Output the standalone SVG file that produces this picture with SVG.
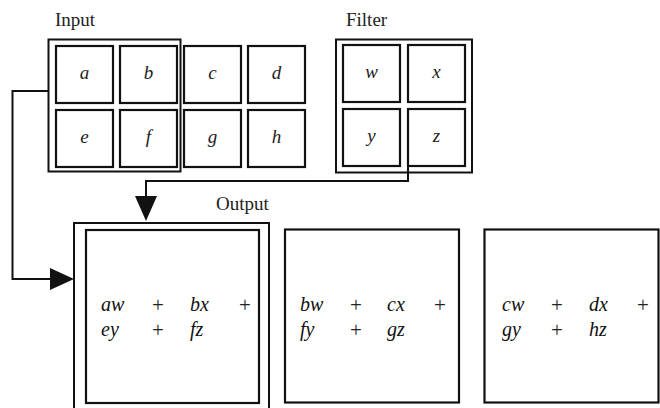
<svg xmlns="http://www.w3.org/2000/svg" width="660" height="408" viewBox="0 0 660 408">
<style>
.box{fill:none;stroke:#111;stroke-width:2.2}
.outer{fill:none;stroke:#111;stroke-width:2}
text{font-family:'Liberation Serif','DejaVu Serif','Times New Roman',serif}
.lbl{font-size:19px;fill:#222}
.var{font-style:italic;font-size:19px;fill:#222;text-anchor:middle}
.eq{font-style:italic;font-size:20px;fill:#111}
.pl{font-size:21px;fill:#222;text-anchor:middle}
.conn{fill:none;stroke:#111;stroke-width:2}
</style>
<text class="lbl" x="55" y="26">Input</text>
<text class="lbl" x="346" y="26">Filter</text>
<text class="lbl" x="216" y="210">Output</text>
<g id="input">
<rect class="outer" x="48.5" y="39.5" width="132" height="132"/>
<g id="cell-a"><rect class="box" x="56" y="46" width="57" height="57"/><text class="var" x="84.5" y="79">a</text></g>
<g id="cell-b"><rect class="box" x="120" y="46" width="57" height="57"/><text class="var" x="148.5" y="79">b</text></g>
<g id="cell-c"><rect class="box" x="184" y="46" width="57" height="57"/><text class="var" x="212.5" y="79">c</text></g>
<g id="cell-d"><rect class="box" x="248" y="46" width="57" height="57"/><text class="var" x="276.5" y="79">d</text></g>
<g id="cell-e"><rect class="box" x="56" y="110" width="57" height="57"/><text class="var" x="84.5" y="143">e</text></g>
<g id="cell-f"><rect class="box" x="120" y="110" width="57" height="57"/><text class="var" x="148.5" y="143">f</text></g>
<g id="cell-g"><rect class="box" x="184" y="110" width="57" height="57"/><text class="var" x="212.5" y="143">g</text></g>
<g id="cell-h"><rect class="box" x="248" y="110" width="57" height="57"/><text class="var" x="276.5" y="143">h</text></g>
</g>
<g id="filter">
<rect class="outer" x="336" y="39.5" width="136" height="133"/>
<g id="cell-w"><rect class="box" x="343" y="45" width="57" height="57"/><text class="var" x="371.5" y="78">w</text></g>
<g id="cell-x"><rect class="box" x="408" y="45" width="57" height="57"/><text class="var" x="436.5" y="78">x</text></g>
<g id="cell-y"><rect class="box" x="343" y="109" width="57" height="57"/><text class="var" x="371.5" y="142">y</text></g>
<g id="cell-z"><rect class="box" x="408" y="109" width="57" height="57"/><text class="var" x="436.5" y="142">z</text></g>
</g>
<g id="output1">
<rect class="outer" x="74" y="223" width="195" height="200"/>
<rect class="box" x="86" y="230" width="173" height="173"/>
<text class="eq" x="101" y="311">aw</text><text class="pl" x="158" y="312">+</text><text class="eq" x="190" y="311">bx</text><text class="pl" x="245" y="312">+</text>
<text class="eq" x="101" y="336">ey</text><text class="pl" x="158" y="337">+</text><text class="eq" x="190" y="336">fz</text>
</g>
<g id="output2">
<rect class="box" x="285" y="229.5" width="174" height="173"/>
<text class="eq" x="300" y="311">bw</text><text class="pl" x="356" y="312">+</text><text class="eq" x="387" y="311">cx</text><text class="pl" x="440" y="312">+</text>
<text class="eq" x="300" y="336">fy</text><text class="pl" x="356" y="337">+</text><text class="eq" x="387" y="336">gz</text>
</g>
<g id="output3">
<rect class="box" x="484.5" y="229.5" width="174" height="173"/>
<text class="eq" x="502" y="311">cw</text><text class="pl" x="557" y="312">+</text><text class="eq" x="589" y="311">dx</text><text class="pl" x="643" y="312">+</text>
<text class="eq" x="502" y="336">gy</text><text class="pl" x="557" y="337">+</text><text class="eq" x="589" y="336">hz</text>
</g>
<g id="connectors">
<path class="conn" d="M48.5,91 H12.5 V279 H52"/>
<polygon points="50,268 74,279 50,290" fill="#111"/>
<path class="conn" d="M408,167 V181 H146 V198"/>
<polygon points="135,196 146,221 157,196" fill="#111"/>
</g>
</svg>
